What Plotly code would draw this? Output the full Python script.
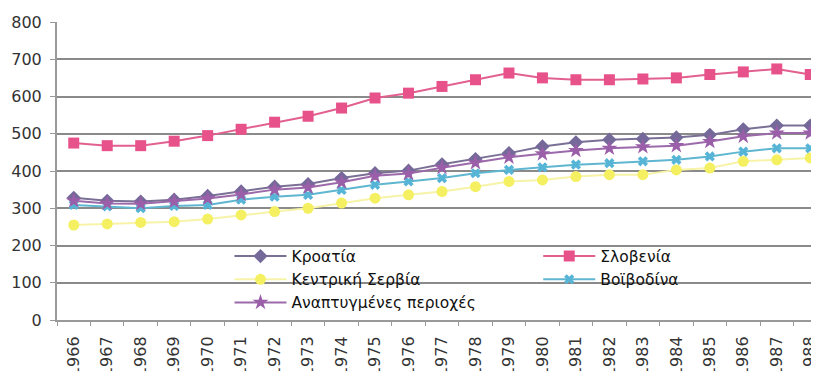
import plotly.graph_objects as go

years = [str(y) for y in range(1966, 1989)]

croatia = [328, 320, 318, 323, 333, 345, 358, 365, 381, 394, 401, 418, 432, 448, 466, 477, 484, 486, 490, 497, 512, 522, 522]
slovenia = [475, 468, 468, 480, 495, 512, 531, 547, 569, 596, 609, 627, 645, 663, 650, 645, 645, 647, 650, 659, 666, 674, 659]
central_serbia = [255, 258, 262, 264, 271, 282, 291, 300, 314, 327, 336, 345, 358, 372, 376, 385, 390, 390, 403, 408, 426, 430, 435]
vojvodina = [309, 305, 300, 306, 309, 323, 331, 336, 349, 363, 372, 381, 394, 403, 410, 417, 421, 426, 430, 439, 452, 461, 461]
developed = [320, 313, 312, 318, 326, 337, 350, 356, 370, 387, 393, 409, 422, 437, 446, 455, 461, 465, 468, 479, 493, 502, 502]

names = ["Κροατία", "Σλοβενία", "Κεντρική Σερβία", "Βοϊβοδίνα", "Αναπτυγμένες περιοχές"]
series = [croatia, slovenia, central_serbia, vojvodina, developed]
legend_ids = ["legend", "legend2", "legend", "legend2", "legend"]
line_colors = ["#7a7096", "#e2608f", "#f7f3a8", "#5fb6d0", "#9c6aaa"]
marker_colors = ["#75699a", "#e8528a", "#f4f062", "#56b4d6", "#9a5fa8"]
symbols = ["diamond", "square", "circle", "x", "star"]
sizes = [11, 11, 11, 9, 12]

FONT = "DejaVu Sans, Verdana, sans-serif"

fig = go.Figure()
for name, vals, lg, lc, mc, sym, sz in zip(names, series, legend_ids, line_colors, marker_colors, symbols, sizes):
    fig.add_trace(go.Scatter(
        x=years, y=vals, name=name, mode="lines+markers", legend=lg,
        line=dict(color=lc, width=2),
        marker=dict(symbol=sym, size=sz, color=mc, line=dict(width=0)),
    ))

leg_common = dict(orientation="v", yanchor="top", xanchor="left", bgcolor="rgba(0,0,0,0)",
                  font=dict(family=FONT, size=15.5, color="#111"), tracegroupgap=0, itemwidth=52)

# white panel behind the legend (hides gridlines, stays under the data)
fig.add_shape(type="rect", xref="paper", yref="paper",
              x0=0.205, x1=0.948, y0=0.022, y1=0.275,
              fillcolor="white", line=dict(width=0), layer="between")

fig.update_layout(
    width=819, height=371,
    margin=dict(l=49, r=0, t=14, b=59),
    paper_bgcolor="white", plot_bgcolor="white",
    font=dict(family=FONT, color="#222"),
    showlegend=True,
    legend=dict(x=0.224, y=0.27, **leg_common),
    legend2=dict(x=0.625, y=0.27, **leg_common),
)
fig.update_xaxes(
    type="category", range=[-0.5, 22.5], automargin=False,
    tickangle=-90, tickfont=dict(family=FONT, size=16, color="#333"), ticklabelstandoff=8,
    ticks="outside", ticklen=4, tickcolor="#999", tickson="boundaries",
    showline=True, linecolor="#999", linewidth=2, showgrid=False,
)
fig.update_yaxes(
    range=[0, 800], dtick=100, automargin=False,
    tickfont=dict(family=FONT, size=16, color="#333"), ticklabelstandoff=5,
    ticks="outside", ticklen=5, tickcolor="#999",
    showline=True, linecolor="#999", linewidth=2,
    showgrid=True, gridcolor="#8a8a8a", gridwidth=1.5, zeroline=False,
)

fig.write_html("out.html")
